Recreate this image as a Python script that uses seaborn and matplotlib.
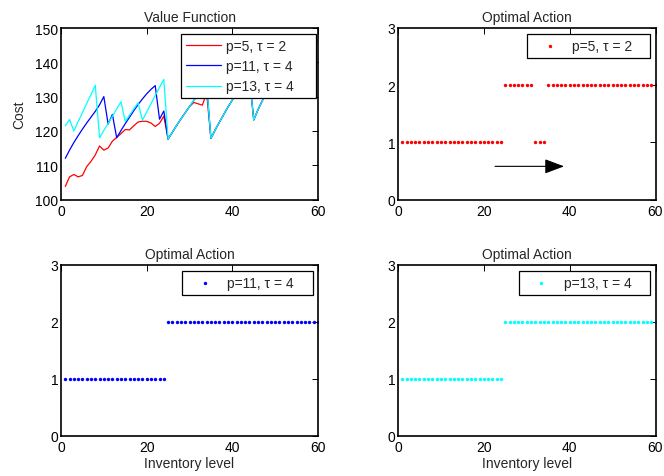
import numpy as np
import pandas as pd
import matplotlib
matplotlib.use("Agg")
import matplotlib.pyplot as plt
import seaborn as sns

# Inventory levels
inventory = list(range(1, 61))

# Value function (expected cost) per inventory level
cost_p5 = [103.8, 106.6, 107.3, 106.6, 107.0, 109.6, 111.1, 113.0, 115.6, 114.4,
           115.0, 117.0, 118.1, 119.2, 120.4, 120.3, 121.5, 122.6, 122.8, 122.8,
           122.3, 121.3, 122.2, 124.3, 117.6, 119.6, 121.6, 123.5, 125.3, 127.1,
           128.3, 127.9, 127.5, 131.0, 117.8, 120.3, 122.6, 124.8, 127.0, 129.0,
           130.8, 132.5, 134.0, 135.4, 123.2, 126.2, 128.8, 131.2, 133.4, 135.5,
           137.4, 139.2, 141.0, 142.6, 136.0, 138.2, 140.3, 142.3, 144.3, 146.2]
cost_p11 = [112.0, 114.4, 116.6, 118.6, 120.5, 122.3, 124.0, 125.7, 127.6, 130.0,
            122.0, 124.8, 118.0, 120.1, 122.1, 124.0, 125.9, 127.7, 129.3, 130.8,
            132.1, 133.2, 123.4, 125.8, 117.6, 119.6, 121.6, 123.5, 125.3, 127.1,
            128.9, 130.6, 132.1, 133.5, 117.8, 120.3, 122.6, 124.8, 127.0, 129.0,
            130.8, 132.5, 134.0, 135.4, 123.2, 126.2, 128.8, 131.2, 133.4, 135.5,
            137.4, 139.2, 141.0, 142.6, 136.0, 138.2, 140.3, 142.3, 144.3, 146.2]
cost_p13 = [121.5, 123.3, 120.0, 122.7, 125.3, 128.0, 130.6, 133.3, 118.0, 120.1,
            122.2, 124.3, 126.4, 128.5, 122.8, 124.6, 126.4, 128.2, 123.1, 125.5,
            127.9, 130.3, 132.7, 135.0, 117.6, 119.6, 121.6, 123.5, 125.3, 127.1,
            128.9, 130.6, 132.1, 133.5, 117.8, 120.3, 122.6, 124.8, 127.0, 129.0,
            130.8, 132.5, 134.0, 135.4, 123.2, 126.2, 128.8, 131.2, 133.4, 135.5,
            137.4, 139.2, 141.0, 142.6, 136.0, 138.2, 140.3, 142.3, 144.3, 146.2]

# Optimal action per inventory level
action_p5 = [1] * 24 + [2] * 7 + [1] * 3 + [2] * 26
action_p11 = [1] * 24 + [2] * 36
action_p13 = [1] * 24 + [2] * 36

labels = ["p=5, \u03c4 = 2", "p=11, \u03c4 = 4", "p=13, \u03c4 = 4"]
colors = [(1, 0, 0), (0, 0, 1), (0, 1, 1)]

x_ticks = [0, 20, 40, 60]
cost_ticks = [100, 110, 120, 130, 140, 150]
action_ticks = [0, 1, 2, 3]

sns.set_style("white")
plt.rcParams["font.family"] = ["Liberation Sans", "DejaVu Sans"]
plt.rcParams["font.size"] = 10

fig = plt.figure(figsize=(6.64, 4.77), dpi=100)
W, H = 664.0, 477.0


def box(l, t, r, b):
    return [l / W, 1 - b / H, (r - l) / W, (b - t) / H]


ax_val = fig.add_axes(box(61, 29, 318, 200.5))
ax_a5 = fig.add_axes(box(398, 29, 655.5, 200.5))
ax_a11 = fig.add_axes(box(61, 266, 318, 436.5))
ax_a13 = fig.add_axes(box(398, 266, 655.5, 436.5))


def style(ax, yticks, ylim):
    ax.set_xlim(0, 60)
    ax.set_ylim(*ylim)
    ax.set_xticks(x_ticks)
    ax.set_yticks(yticks)
    ax.tick_params(direction="in", top=True, right=True, length=4, width=0.7,
                   colors="black", labelsize=10, pad=3)
    ax.tick_params(axis="y", pad=2)
    for s in ax.spines.values():
        s.set_visible(True)
        s.set_color("black")
        s.set_linewidth(1.2)
    ax.set_facecolor("white")


def legend(ax, x0, x1, top):
    leg = ax.legend(loc="upper left", bbox_to_anchor=(x0, 0, x1 - x0, top),
                    mode="expand", borderaxespad=0, fancybox=False,
                    edgecolor="black", framealpha=1, fontsize=10,
                    handlelength=2.55, handletextpad=0.35, borderpad=0.35,
                    labelspacing=0.45, scatterpoints=1)
    leg.get_frame().set_linewidth(0.9)
    return leg


# Value function
val_df = pd.DataFrame({"inv": inventory, "a": cost_p5, "b": cost_p11, "c": cost_p13})
for col, lab, c in zip(["a", "b", "c"], labels, colors):
    sns.lineplot(data=val_df, x="inv", y=col, color=c, lw=0.9, label=lab, ax=ax_val)
style(ax_val, cost_ticks, (100, 150))
ax_val.set_title("Value Function", fontsize=10, pad=5)
ax_val.set_xlabel("")
ax_val.set_ylabel("Cost", fontsize=10, labelpad=6)
legend(ax_val, 0.467, 0.992, 0.965)

# Optimal actions
for ax, acts, lab, c, lx0, lx1, xl in [
        (ax_a5, action_p5, labels[0], colors[0], 0.502, 0.977, False),
        (ax_a11, action_p11, labels[1], colors[1], 0.472, 0.982, True),
        (ax_a13, action_p13, labels[2], colors[2], 0.469, 0.977, True)]:
    sns.scatterplot(x=inventory, y=acts, color=c, s=6, linewidth=0,
                    marker="o", label=lab, ax=ax)
    style(ax, action_ticks, (0, 3))
    ax.set_title("Optimal Action", fontsize=10, pad=5)
    ax.set_ylabel("")
    ax.set_xlabel("Inventory level" if xl else "", fontsize=10, labelpad=2)
    legend(ax, lx0, lx1, 0.965)

# Direction arrow
ax_a5.annotate("", xy=(38.7, 0.58), xytext=(22.6, 0.58),
               arrowprops=dict(arrowstyle="-|>,head_length=0.8,head_width=0.3",
                               color="black", lw=0.8, mutation_scale=15,
                               shrinkA=0, shrinkB=0))

fig.savefig("out.png", dpi=100)
